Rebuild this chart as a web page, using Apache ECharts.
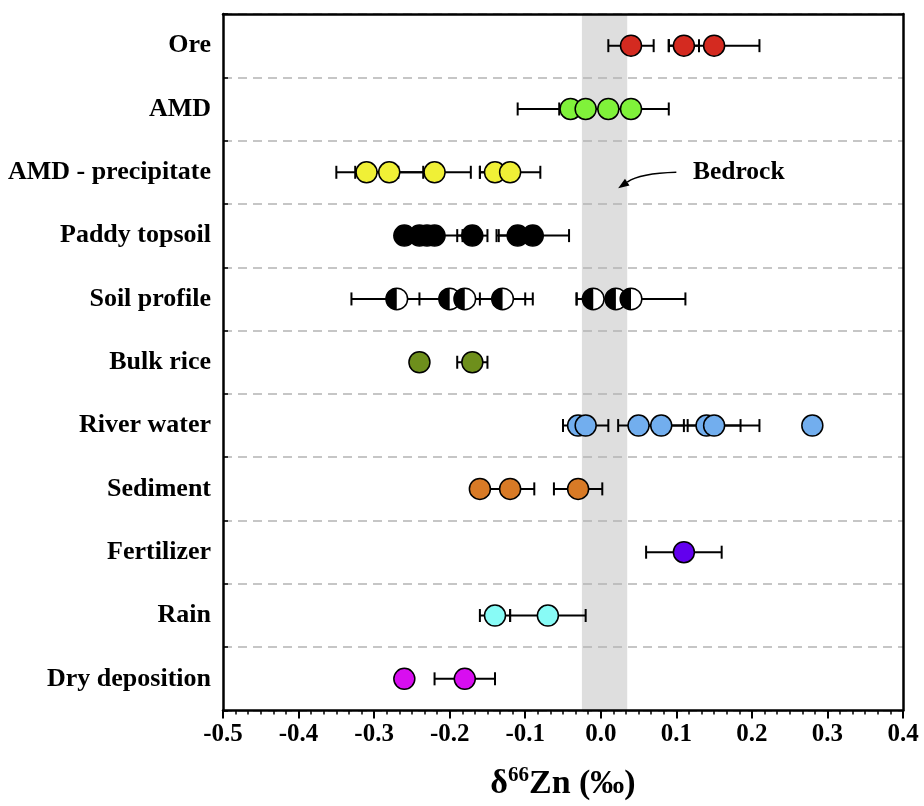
<!DOCTYPE html>
<html><head><meta charset="utf-8">
<script src="https://cdn.jsdelivr.net/npm/echarts@6/dist/echarts.min.js"></script>
<style>html,body{margin:0;padding:0;background:#fff}#c{width:924px;height:806px}</style>
</head><body><div id="c"></div>
<script>
// ---- data ----
const categories = ['Ore','AMD','AMD - precipitate','Paddy topsoil','Soil profile','Bulk rice','River water','Sediment','Fertilizer','Rain','Dry deposition'];
const xMin = -0.5, xMax = 0.4, xStep = 0.1;
const bedrockRange = [-0.025, 0.035];

const oreVals     = [0.04, 0.11, 0.15];
const oreErr      = [0.03, 0.02, 0.06];
const amdVals     = [-0.04, -0.02, 0.01, 0.04];
const amdErr      = [0.07, 0.035, 0.02, 0.05];
const precipVals  = [-0.31, -0.28, -0.22, -0.14, -0.12];
const precipErr   = [0.04, 0.045, 0.048, 0.02, 0.04];
const paddyVals   = [-0.26, -0.24, -0.23, -0.22, -0.17, -0.11, -0.09];
const paddyErr    = [0.01, 0.01, 0.01, 0.037, 0.02, 0.025, 0.048];
const soilVals    = [-0.27, -0.20, -0.18, -0.13, -0.01, 0.02, 0.04];
const soilErr     = [0.06, 0.04, 0.08, 0.04, 0.022, 0.02, 0.072];
const riceVals    = [-0.24, -0.17];
const riceErr     = [0, 0.02];
const riverVals   = [-0.03, -0.02, 0.05, 0.08, 0.14, 0.15, 0.28];
const riverErr    = [0.01, 0.03, 0.027, 0.03, 0.07, 0.035, 0];
const sedVals     = [-0.16, -0.12, -0.03];
const sedErr      = [0.01, 0.032, 0.032];
const fertVals    = [0.11];
const fertErr     = [0.05];
const rainVals    = [-0.14, -0.07];
const rainErr     = [0.02, 0.05];
const dryVals     = [-0.26, -0.18];
const dryErr      = [0, 0.04];

const bedrockText = 'Bedrock';
const bedrockTextX = 0.122, arrowFromX = 0.100, arrowToX = 0.023, bedrockCat = 2;

// ---- styles ----
const groups = [
  {vals: oreVals,    errs: oreErr,    color: '#d42a20'},
  {vals: amdVals,    errs: amdErr,    color: '#80f23a'},
  {vals: precipVals, errs: precipErr, color: '#f0f036'},
  {vals: paddyVals,  errs: paddyErr,  color: '#000000'},
  {vals: soilVals,   errs: soilErr,   color: 'half'},
  {vals: riceVals,   errs: riceErr,   color: '#6e8f1c'},
  {vals: riverVals,  errs: riverErr,  color: '#72aeee'},
  {vals: sedVals,    errs: sedErr,    color: '#d87a26'},
  {vals: fertVals,   errs: fertErr,   color: '#6200ee'},
  {vals: rainVals,   errs: rainErr,   color: '#88fbf6'},
  {vals: dryVals,    errs: dryErr,    color: '#d80ef0'}
];
const FONT = "'Liberation Serif','Times New Roman',serif";

const errData = [];
groups.forEach((g, ci) => g.vals.forEach((v, i) => { if (g.errs[i] > 0) errData.push([v, ci, g.errs[i]]); }));

const series = [];
// bedrock band
series.push({
  type: 'custom', z: -1, silent: true,
  data: [[bedrockRange[0], 0, bedrockRange[1]]],
  encode: {x: 0, y: 1},
  renderItem(params, api) {
    const a = api.coord([api.value(0), 0]);
    const b = api.coord([api.value(2), 0]);
    const cs = params.coordSys;
    return {type: 'rect', shape: {x: a[0], y: cs.y, width: b[0] - a[0], height: cs.height}, style: {fill: '#dedede'}};
  }
});
// error bars
series.push({
  type: 'custom', z: 1, silent: true,
  data: errData, encode: {x: 0, y: 1},
  renderItem(params, api) {
    const x = api.value(0), c = api.value(1), e = api.value(2);
    const lo = api.coord([x - e, c]), hi = api.coord([x + e, c]);
    const h = 6.5, st = {stroke: '#000', lineWidth: 2};
    return {type: 'group', children: [
      {type: 'line', shape: {x1: lo[0], y1: lo[1], x2: hi[0], y2: hi[1]}, style: st},
      {type: 'line', shape: {x1: lo[0], y1: lo[1] - h, x2: lo[0], y2: lo[1] + h}, style: st},
      {type: 'line', shape: {x1: hi[0], y1: hi[1] - h, x2: hi[0], y2: hi[1] + h}, style: st}
    ]};
  }
});
groups.forEach((g, ci) => {
  const data = g.vals.map(v => [v, ci]);
  if (g.color === 'half') {
    series.push({
      type: 'custom', z: 3, silent: true, data, encode: {x: 0, y: 1},
      renderItem(params, api) {
        const p = api.coord([api.value(0), api.value(1)]);
        const r = 10.8;
        return {type: 'group', children: [
          {type: 'circle', shape: {cx: p[0], cy: p[1], r}, style: {fill: '#fff', stroke: '#000', lineWidth: 1.5}},
          {type: 'sector', shape: {cx: p[0], cy: p[1], r0: 0, r, startAngle: Math.PI / 2, endAngle: Math.PI * 1.5, clockwise: true}, style: {fill: '#000'}}
        ]};
      }
    });
  } else {
    series.push({
      type: 'scatter', z: 3, silent: true, data, symbol: 'circle', symbolSize: 21,
      itemStyle: {color: g.color, borderColor: '#000', borderWidth: 1.5, opacity: 1}
    });
  }
});
// Bedrock annotation
series.push({
  type: 'custom', z: 4, silent: true,
  data: [[bedrockTextX, bedrockCat]], encode: {x: 0, y: 1},
  renderItem(params, api) {
    const c = api.value(1);
    const t = api.coord([api.value(0), c]);
    const s = api.coord([arrowFromX, c]);
    const e0 = api.coord([arrowToX, c]);
    const e = [e0[0], e0[1] + 16];
    const cp = [e[0] + 22, s[1] + 1];
    let dx = e[0] - cp[0], dy = e[1] - cp[1];
    const L = Math.hypot(dx, dy); dx /= L; dy /= L;
    const hl = 11, hw = 4;
    const bx = e[0] - dx * hl, by = e[1] - dy * hl;
    return {type: 'group', children: [
      {type: 'bezierCurve', shape: {x1: s[0], y1: s[1], cpx1: cp[0], cpy1: cp[1], x2: bx, y2: by}, style: {stroke: '#000', lineWidth: 1.5, fill: null}},
      {type: 'polygon', shape: {points: [[e[0], e[1]], [bx - dy * hw, by + dx * hw], [bx + dy * hw, by - dx * hw]]}, style: {fill: '#000'}},
      {type: 'text', style: {x: t[0], y: t[1], text: bedrockText, font: 'bold 25.5px ' + FONT, fill: '#000', textAlign: 'left', textVerticalAlign: 'middle'}}
    ]};
  }
});

const chart = echarts.init(document.getElementById('c'), null, {renderer: 'canvas'});
chart.setOption({
  animation: false,
  backgroundColor: '#fff',
  grid: {left: 223, right: 21, top: 14, bottom: 95},
  xAxis: [{
    type: 'value', min: xMin, max: xMax, interval: xStep, position: 'bottom',
    axisLine: {show: true, onZero: false, lineStyle: {color: '#000', width: 2.5}},
    axisTick: {show: true, length: 8, lineStyle: {color: '#000', width: 2}},
    minorTick: {show: true, splitNumber: 6, length: 4, lineStyle: {color: '#000', width: 1.5}},
    splitLine: {show: false},
    axisLabel: {margin: 12, color: '#000', fontFamily: FONT, fontWeight: 'bold', fontSize: 25,
      formatter: v => (Math.abs(v) < 1e-9 ? 0 : v).toFixed(1)},
    name: '{d|δ}{s|66}{d|Zn (‰)}', nameLocation: 'middle', nameGap: 55,
    nameTextStyle: {color: '#000', rich: {
      d: {fontFamily: FONT, fontWeight: 'bold', fontSize: 34, color: '#000'},
      s: {fontFamily: FONT, fontWeight: 'bold', fontSize: 21, color: '#000', padding: [0, 0, 16, 0]}
    }}
  }, {
    type: 'value', min: xMin, max: xMax, position: 'top',
    axisLine: {show: true, onZero: false, lineStyle: {color: '#000', width: 2.5}},
    axisTick: {show: false}, axisLabel: {show: false}, splitLine: {show: false}
  }],
  yAxis: [{
    type: 'category', data: categories, inverse: true,
    axisLine: {show: true, onZero: false, lineStyle: {color: '#000', width: 2.5}},
    axisTick: {show: true, inside: true, length: 5, lineStyle: {color: '#000', width: 1.5}},
    splitLine: {show: true, lineStyle: {color: '#b4b4b4', width: 1.5, type: [9, 6]}},
    axisLabel: {margin: 12, color: '#000', fontFamily: FONT, fontWeight: 'bold', fontSize: 26}
  }, {
    type: 'value', min: 0, max: 1, position: 'right',
    axisLine: {show: true, onZero: false, lineStyle: {color: '#000', width: 2.5}},
    axisTick: {show: false}, axisLabel: {show: false}, splitLine: {show: false}
  }],
  series
});
</script>
</body></html>
